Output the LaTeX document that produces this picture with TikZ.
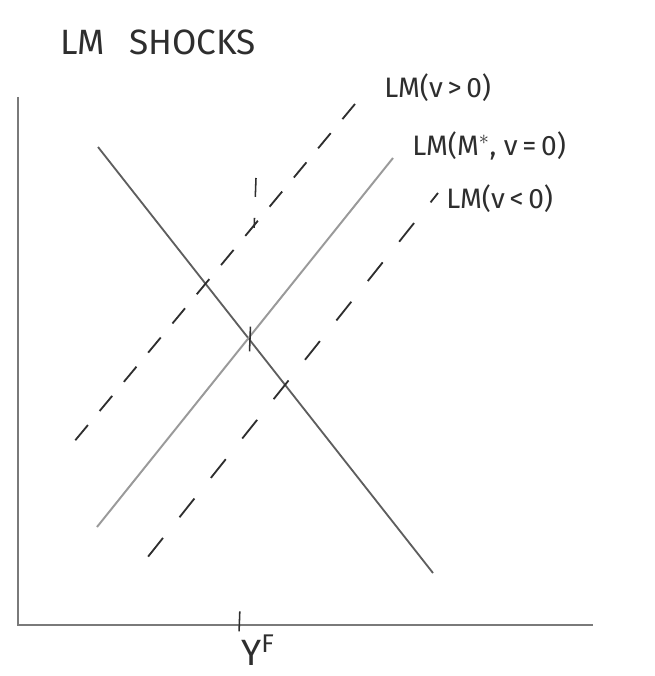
\documentclass[tikz,border=0pt]{standalone}
\usepackage{fontspec}
\setmainfont{Fira Sans}
\usetikzlibrary{positioning}
\definecolor{pencil}{HTML}{7A7A7A}
\definecolor{graphite}{HTML}{5E5E5E}
\definecolor{light}{HTML}{9A9A9A}
\definecolor{lead}{HTML}{2E2E2E}

\begin{document}
\begin{tikzpicture}[x=0.025cm,y=-0.025cm,font=\fontsize{20}{24}\selectfont,
  axis/.style={line width=1.4pt,pencil},
  shifted/.style={line width=1.3pt,lead},
  tag/.style={text=lead,inner sep=0pt,anchor=west}]
\useasboundingbox (0,0) rectangle (654,676);
\coordinate (origin) at (18,625);
\coordinate (ytop) at (18,97);
\coordinate (xend) at (593,625);
\coordinate (istop) at (98,147);
\coordinate (isbot) at (433,573);
\coordinate (basebot) at (97,527);
\coordinate (basetop) at (393,158);
\coordinate (uptop) at (355,104);
\coordinate (upbot) at (73,443);
\coordinate (downtop) at (438,193);
\coordinate (downbot) at (147,558);
\coordinate (fulltop) at (256,178);
\coordinate (full) at (239,633);
\draw[axis] (ytop) -- (origin) -- (xend);
\draw[line width=1.3pt,graphite] (istop) -- (isbot);
\draw[line width=1.4pt,light] (basebot) -- (basetop);
\draw[shifted,dash pattern=on 14pt off 13pt] (uptop) -- (upbot);
\draw[shifted,dash pattern=on 17pt off 18.8pt,dash phase=8.5pt] (downtop) -- (downbot);
\draw[shifted,line width=1.1pt,dash pattern=on 13.5pt off 14.9pt on 7.1pt off 70.2pt on 17.7pt off 185pt on 14.2pt off 20pt] (fulltop) -- (full);
\node[tag,font=\fontsize{25}{30}\selectfont] (title) at (60,42) {LM\hspace{0.7em}SHOCKS};
\node[tag] (uplabel) at (384,88) {LM(v\,>\,0)};
\node[tag] (baselabel) at (412,146) {LM(M$^{*}$, v\,=\,0)};
\node[tag] (downlabel) at (446,199) {LM(v\,<\,0)};
\node[text=lead,font=\fontsize{26}{30}\selectfont] (fulllabel) at (258,650) {Y$^{\mathrm{F}}$};
\end{tikzpicture}
\end{document}
